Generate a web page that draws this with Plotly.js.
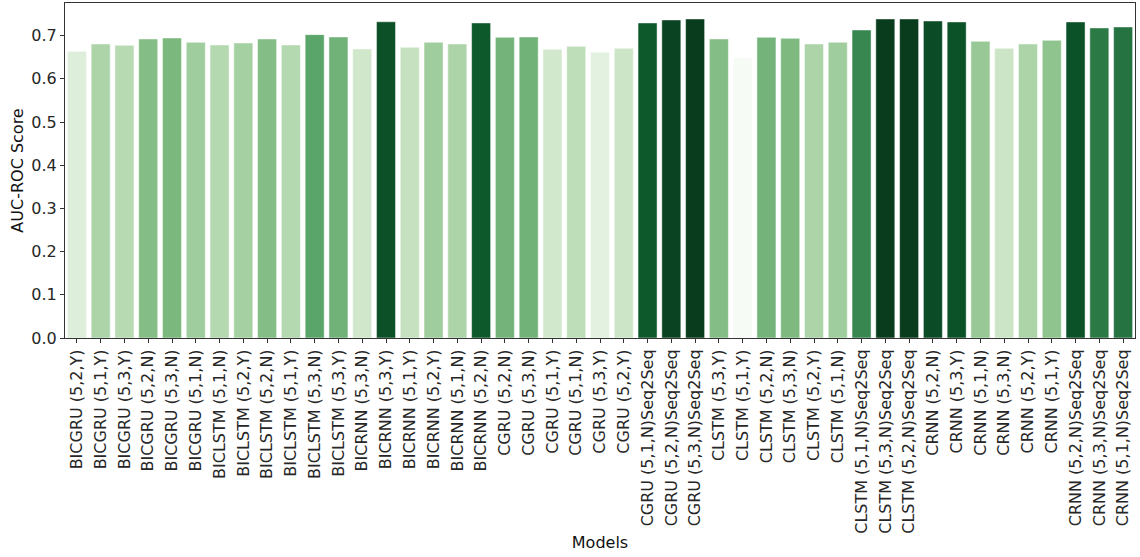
<!DOCTYPE html>
<html>
<head>
<meta charset="utf-8">
<script src="https://cdn.plot.ly/plotly-3.0.1.min.js"></script>
<style>html,body{margin:0;padding:0;background:#fff;}#chart{width:1140px;height:557px;}</style>
</head>
<body>
<div id="chart"></div>
<script>
const models = [
  "BICGRU (5,2,Y)","BICGRU (5,1,Y)","BICGRU (5,3,Y)","BICGRU (5,2,N)","BICGRU (5,3,N)","BICGRU (5,1,N)",
  "BICLSTM (5,1,N)","BICLSTM (5,2,Y)","BICLSTM (5,2,N)","BICLSTM (5,1,Y)","BICLSTM (5,3,N)","BICLSTM (5,3,Y)",
  "BICRNN (5,3,N)","BICRNN (5,3,Y)","BICRNN (5,1,Y)","BICRNN (5,2,Y)","BICRNN (5,1,N)","BICRNN (5,2,N)",
  "CGRU (5,2,N)","CGRU (5,3,N)","CGRU (5,1,Y)","CGRU (5,1,N)","CGRU (5,3,Y)","CGRU (5,2,Y)",
  "CGRU (5,1,N)Seq2Seq","CGRU (5,2,N)Seq2Seq","CGRU (5,3,N)Seq2Seq",
  "CLSTM (5,3,Y)","CLSTM (5,1,Y)","CLSTM (5,2,N)","CLSTM (5,3,N)","CLSTM (5,2,Y)","CLSTM (5,1,N)",
  "CLSTM (5,1,N)Seq2Seq","CLSTM (5,3,N)Seq2Seq","CLSTM (5,2,N)Seq2Seq",
  "CRNN (5,2,N)","CRNN (5,3,Y)","CRNN (5,1,N)","CRNN (5,3,N)","CRNN (5,2,Y)","CRNN (5,1,Y)",
  "CRNN (5,2,N)Seq2Seq","CRNN (5,3,N)Seq2Seq","CRNN (5,1,N)Seq2Seq"
];
const aucScores = [
  0.6637,0.6807,0.6776,0.6923,0.6946,0.6846,
  0.6784,0.6831,0.6923,0.6784,0.7024,0.6970,
  0.6692,0.7322,0.6730,0.6846,0.6807,0.7295,
  0.6962,0.6970,0.6684,0.6753,0.6614,0.6707,
  0.7295,0.7364,0.7387,
  0.6923,0.6490,0.6962,0.6938,0.6807,0.6846,
  0.7132,0.7387,0.7387,
  0.7340,0.7318,0.6869,0.6707,0.6807,0.6892,
  0.7318,0.7179,0.7202
];
const yTicks = [0, 0.1, 0.2, 0.3, 0.4, 0.5, 0.6, 0.7];
const yTickText = ['0.0','0.1','0.2','0.3','0.4','0.5','0.6','0.7'];

// matplotlib "Greens" stops, desaturated like seaborn's barplot (saturation 0.75)
const greensHex = ['#f7fcf5','#e5f5e0','#c7e9c0','#a1d99b','#74c476','#41ab5d','#238b45','#006d2c','#00441b'];
function desat(hex, f) {
  let r = parseInt(hex.slice(1,3),16)/255, g = parseInt(hex.slice(3,5),16)/255, b = parseInt(hex.slice(5,7),16)/255;
  const mx = Math.max(r,g,b), mn = Math.min(r,g,b);
  const l = (mx+mn)/2;
  let h = 0, s = 0;
  if (mx !== mn) {
    const d = mx - mn;
    s = l > 0.5 ? d/(2-mx-mn) : d/(mx+mn);
    if (mx === r) h = ((g-b)/d + (g<b?6:0));
    else if (mx === g) h = (b-r)/d + 2;
    else h = (r-g)/d + 4;
    h /= 6;
  }
  s *= f;
  function hue2rgb(p,q,t){ if(t<0)t+=1; if(t>1)t-=1; if(t<1/6)return p+(q-p)*6*t; if(t<1/2)return q; if(t<2/3)return p+(q-p)*(2/3-t)*6; return p; }
  let rr, gg, bb;
  if (s === 0) { rr = gg = bb = l; }
  else {
    const q = l < 0.5 ? l*(1+s) : l+s-l*s, p = 2*l-q;
    rr = hue2rgb(p,q,h+1/3); gg = hue2rgb(p,q,h); bb = hue2rgb(p,q,h-1/3);
  }
  return 'rgb(' + Math.round(rr*255) + ',' + Math.round(gg*255) + ',' + Math.round(bb*255) + ')';
}
const greens = greensHex.map((c, i) => [i/(greensHex.length-1), desat(c, 0.75)]);

const xIdx = models.map((_, i) => i);
const yMax = Math.max(...aucScores) * 1.05;
const F = 'DejaVu Sans';

Plotly.newPlot('chart', [{
  type: 'bar',
  x: xIdx,
  y: aucScores,
  width: 0.8,
  marker: {
    color: aucScores,
    colorscale: greens,
    cmin: Math.min(...aucScores),
    cmax: Math.max(...aucScores),
    line: {color: 'rgba(255,255,255,0.6)', width: 0.8}
  },
  text: models,
  textposition: 'none'
}], {
  width: 1140, height: 557,
  margin: {l: 65, r: 5, t: 3, b: 219},
  paper_bgcolor: '#fff', plot_bgcolor: '#fff',
  font: {family: F, size: 16, color: '#262626'},
  showlegend: false,
  xaxis: {
    tickmode: 'array', tickvals: xIdx, ticktext: models,
    tickangle: -90,
    range: [-0.5, models.length - 0.5],
    showline: true, mirror: true, linecolor: '#333', linewidth: 1,
    ticks: 'outside', ticklen: 4, tickcolor: '#333',
    showgrid: false, zeroline: false,
    tickfont: {size: 16, family: F, color: '#262626'},
    title: {text: 'Models', font: {size: 16, family: F, color: '#111'}, standoff: 4}
  },
  yaxis: {
    range: [0, yMax],
    tickmode: 'array', tickvals: yTicks, ticktext: yTickText,
    showline: true, mirror: true, linecolor: '#333', linewidth: 1,
    ticks: 'outside', ticklen: 4, tickcolor: '#333',
    showgrid: false, zeroline: false,
    tickfont: {size: 16, family: F, color: '#262626'},
    title: {text: 'AUC-ROC Score', font: {size: 16, family: F, color: '#111'}, standoff: 3}
  }
}, {displayModeBar: false, staticPlot: true});
</script>
</body>
</html>
